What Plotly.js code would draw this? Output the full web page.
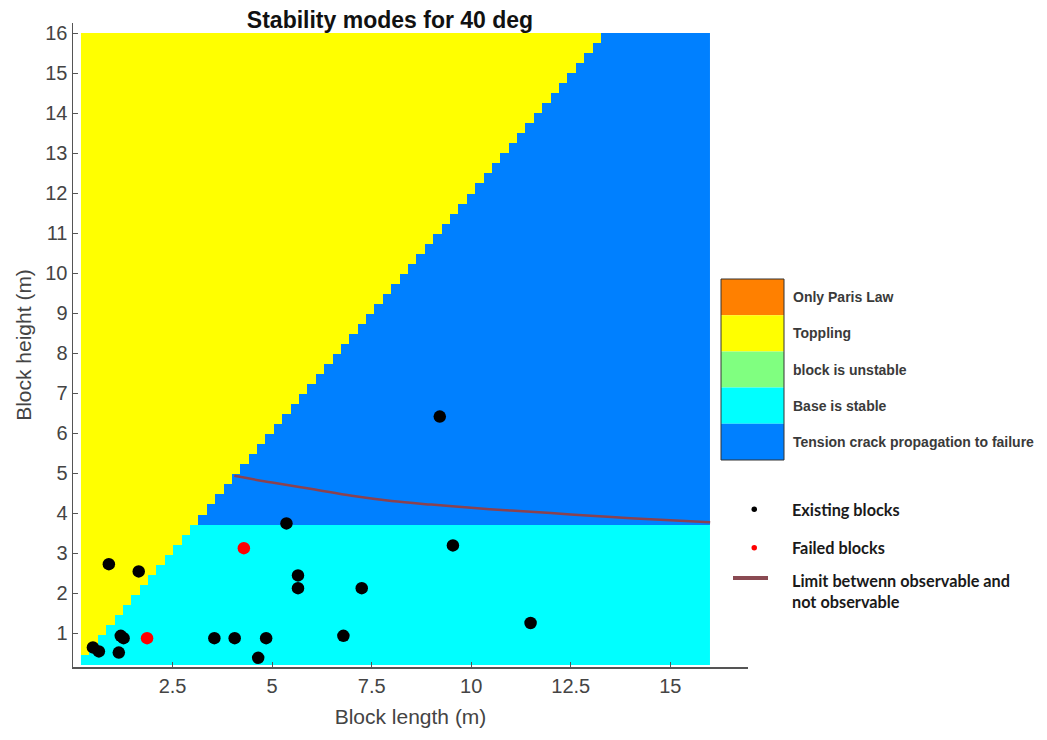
<!DOCTYPE html>
<html>
<head>
<meta charset="utf-8">
<script src="https://cdn.plot.ly/plotly-3.0.1.min.js"></script>
<style>html,body{margin:0;padding:0;background:#fff;}#chart{width:1047px;height:740px;}</style>
</head>
<body>
<div id="chart"></div>
<script>
// ---- data ----
const modeNames = ["Only Paris Law", "Toppling", "block is unstable", "Base is stable", "Tension crack propagation to failure"];
const modeColors = ["#FF8000", "#FFFF00", "#80FF80", "#00FFFF", "#0080FF"];

// grid extent of the stability map (m)
const gridL = [0.2, 16];
const gridH = [0.2, 16];
const gridCols = 75;
const gridRows = 63;
// toppling boundary (length at given height)
const toppleH = [0.2, 16];
const toppleL = [0.17, 13.4];
// base stable below this height
const baseStableH = 3.77;

const existingL = [0.50, 0.65, 0.90, 1.20, 1.27, 1.15, 1.65, 3.55, 4.06, 4.65, 4.85, 5.36, 5.65, 5.65, 9.21, 9.54, 7.25, 6.79, 11.49];
const existingH = [0.64, 0.54, 2.72, 0.93, 0.87, 0.51, 2.54, 0.87, 0.87, 0.38, 0.87, 3.74, 2.44, 2.12, 6.41, 3.19, 2.12, 0.93, 1.25];
const failedL = [1.86, 4.29];
const failedH = [0.87, 3.12];

const limitL = [4.05, 5, 6, 7, 8, 9, 10, 11, 12, 13, 14, 15, 16];
const limitH = [4.93, 4.76, 4.60, 4.43, 4.30, 4.21, 4.13, 4.06, 4.00, 3.93, 3.87, 3.82, 3.77];

const xTicks = [2.5, 5, 7.5, 10, 12.5, 15];
const xTickText = ["2.5", "5", "7.5", "10", "12.5", "15"];
const yTicks = [1,2,3,4,5,6,7,8,9,10,11,12,13,14,15,16];

const legendPointNames = ["Existing blocks", "Failed blocks", "Limit betwenn observable and<br>not observable"];

// ---- build the classification map ----
const dx = (gridL[1] - gridL[0]) / gridCols;
const dy = (gridH[1] - gridH[0]) / gridRows;
const xEdges = [], yEdges = [];
for (let i = 0; i <= gridCols; i++) xEdges.push(gridL[0] + i * dx);
for (let j = 0; j <= gridRows; j++) yEdges.push(gridH[0] + j * dy);
function toppleEdge(h) {
  return toppleL[0] + (h - toppleH[0]) * (toppleL[1] - toppleL[0]) / (toppleH[1] - toppleH[0]);
}
const z = [];
for (let j = 0; j < gridRows; j++) {
  const hc = gridH[0] + (j + 0.5) * dy;
  const row = [];
  for (let i = 0; i < gridCols; i++) {
    const lc = gridL[0] + (i + 0.5) * dx;
    if (lc < toppleEdge(hc)) row.push(2);
    else if (hc < baseStableH) row.push(1);
    else row.push(0);
  }
  z.push(row);
}

// ---- layout geometry (pixels) ----
const W = 1047, H = 740;
const M = {l: 73, r: 299, t: 23, b: 73};
const PW = W - M.l - M.r, PH = H - M.t - M.b;
const px = x => (x - M.l) / PW;
const py = y => (H - M.b - y) / PH;

const traces = [
  {
    type: 'heatmap', x: xEdges, y: yEdges, z: z,
    zmin: 0, zmax: 2,
    colorscale: [[0, modeColors[4]], [0.5, modeColors[3]], [1, modeColors[1]]],
    showscale: false, hoverinfo: 'skip'
  },
  {
    type: 'scatter', mode: 'lines', x: limitL, y: limitH,
    line: {color: '#8A4250', width: 2.5, shape: 'spline'}, showlegend: false
  },
  {
    type: 'scatter', mode: 'markers', x: existingL, y: existingH,
    marker: {color: '#000000', size: 12.5}, showlegend: false
  },
  {
    type: 'scatter', mode: 'markers', x: failedL, y: failedH,
    marker: {color: '#FF0000', size: 12.5}, showlegend: false
  }
];

const shapes = [];
const annotations = [];
// colour legend box
const boxL = 721, boxR = 784, boxT = 279, boxB = 460;
const segH = (boxB - boxT) / modeNames.length;
modeNames.forEach((name, k) => {
  const t = boxT + k * segH, b = t + segH;
  shapes.push({type: 'rect', xref: 'paper', yref: 'paper',
    x0: px(boxL), x1: px(boxR), y0: py(b), y1: py(t),
    fillcolor: modeColors[k], line: {width: 0}});
  annotations.push({xref: 'paper', yref: 'paper', x: px(791), y: py(t + segH / 2),
    xanchor: 'left', yanchor: 'middle', showarrow: false,
    text: '<b>' + name + '</b>',
    font: {family: 'Liberation Sans, Arial, sans-serif', size: 14, color: '#3a3a3a'}});
});
shapes.push({type: 'rect', xref: 'paper', yref: 'paper',
  x0: px(boxL), x1: px(boxR), y0: py(boxB), y1: py(boxT),
  fillcolor: 'rgba(0,0,0,0)', line: {width: 1, color: '#333'}});

// point / line legend
shapes.push({type: 'circle', xref: 'paper', yref: 'paper',
  x0: px(751.5), x1: px(757), y0: py(512), y1: py(506.5), fillcolor: '#000', line: {width: 0}});
shapes.push({type: 'circle', xref: 'paper', yref: 'paper',
  x0: px(751.5), x1: px(757), y0: py(550.5), y1: py(545), fillcolor: '#FF0000', line: {width: 0}});
shapes.push({type: 'line', xref: 'paper', yref: 'paper',
  x0: px(733), x1: px(768), y0: py(578), y1: py(578), line: {color: '#8A4A52', width: 4}});
const legY = [509, 547.5, 590.5];
legendPointNames.forEach((name, k) => {
  annotations.push({xref: 'paper', yref: 'paper', x: px(790), y: py(legY[k]),
    xanchor: 'left', yanchor: 'middle', align: 'left', showarrow: false,
    text: '<b>' + name + '</b>',
    font: {family: 'Lato, Carlito, sans-serif', size: 16.3, color: '#1a1a1a'}});
});

const layout = {
  width: W, height: H,
  margin: M,
  paper_bgcolor: '#fff', plot_bgcolor: '#fff',
  showlegend: false,
  title: {
    text: '<b>Stability modes for 40 deg</b>',
    font: {family: 'Liberation Sans, Arial, sans-serif', size: 23, color: '#111'},
    xref: 'paper', x: px(390), xanchor: 'center',
    yref: 'container', y: 1 - 20 / H, yanchor: 'middle'
  },
  xaxis: {
    range: [0, 16.95], tickvals: xTicks, ticktext: xTickText,
    ticks: 'inside', ticklen: 5, tickcolor: '#555',
    showline: true, linecolor: '#555', linewidth: 1.5,
    showgrid: false, zeroline: false, mirror: false,
    tickfont: {family: 'Liberation Sans, Arial, sans-serif', size: 20, color: '#444'},
    title: {text: 'Block length (m)', standoff: 14,
      font: {family: 'Liberation Sans, Arial, sans-serif', size: 21, color: '#444'}}
  },
  yaxis: {
    range: [0.15, 16.25], tickvals: yTicks,
    ticks: 'inside', ticklen: 5, tickcolor: '#555',
    showline: true, linecolor: '#555', linewidth: 1.5,
    showgrid: false, zeroline: false, mirror: false,
    tickfont: {family: 'Liberation Sans, Arial, sans-serif', size: 20, color: '#444'},
    title: {text: 'Block height (m)', standoff: 8,
      font: {family: 'Liberation Sans, Arial, sans-serif', size: 21, color: '#444'}}
  },
  shapes: shapes,
  annotations: annotations
};

Plotly.newPlot('chart', traces, layout, {displayModeBar: false, staticPlot: true});
</script>
</body>
</html>
